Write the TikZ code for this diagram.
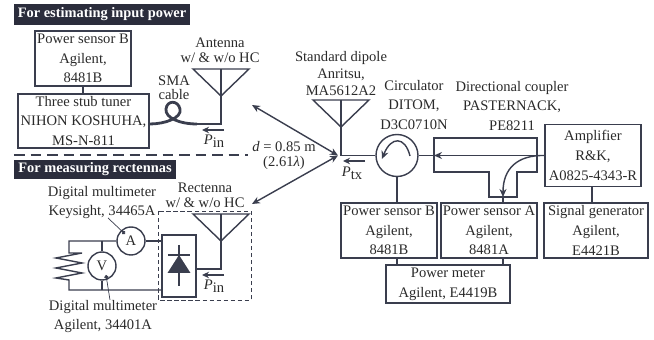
\documentclass[tikz,border=0pt]{standalone}
\usepackage{fontspec}
\setmainfont{Liberation Serif}
\usetikzlibrary{arrows.meta,positioning,calc}
\definecolor{ink}{HTML}{3A3E4E}
\definecolor{banner}{HTML}{2B2D3C}
\definecolor{txt}{HTML}{2A2A2A}
\tikzset{
  lab/.style={font=\fontsize{8.3}{11.2}\selectfont, text=txt, align=center, inner sep=0pt},
  box/.style n args={2}{lab, draw=ink, line width=0.8pt, minimum width=#1*0.02cm, minimum height=#2*0.02cm},
  meter/.style={lab, draw=ink, line width=0.8pt, circle, minimum size=0.56cm},
  head/.style={font=\fontsize{8.2}{10}\bfseries\selectfont, text=white, fill=banner, inner sep=0pt, minimum height=0.42cm},
  wire/.style={draw=ink, line width=0.8pt},
  arr/.style={wire, -{Stealth[length=1.6mm,width=1.4mm]}},
  flow/.style={draw=ink, line width=0.8pt, -{Stealth[length=1.4mm,width=1.3mm]}},
  leader/.style={draw=ink, line width=0.4pt, -{Circle[length=0.8mm]}},
}
\begin{document}
\begin{tikzpicture}[x=0.02cm,y=-0.02cm]
        \useasboundingbox (0,0) rectangle (654,340);
        % banners and divider
        \node[head, minimum width=3.52cm] (estim) at (102,14.5) {For estimating input power};
        \node[head, minimum width=3.24cm, minimum height=0.38cm] (meas) at (95,169.5) {For measuring rectennas};
        \coordinate (divL) at (14,155);
        \coordinate (divR) at (248,155);
        \draw[wire, dash pattern=on 6pt off 3.4pt] (divL) -- (divR);
        % boxes
        \node[box={96}{55}] (sensB1) at (83,58.5) {Power sensor B\\Agilent,\\8481B};
        \node[box={131}{54}] (tuner) at (83.5,121) {Three stub tuner\\NIHON KOSHUHA,\\MS-N-811};
        \node[box={96}{55}] (sensB2) at (389,230.5) {Power sensor B\\Agilent,\\8481B};
        \node[box={96}{55}] (sensA) at (489,230.5) {Power sensor A\\Agilent,\\8481A};
        \node[box={104}{55}] (siggen) at (596,230.5) {Signal generator\\Agilent,\\E4421B};
        \node[box={96}{62}] (amp) at (593,155.5) {Amplifier\\R\&K,\\A0825-4343-R};
        \node[box={124}{38}] (pmeter) at (448,284) {Power meter\\Agilent, E4419B};
        \node[box={34}{62}] (rect) at (179,266) {};
        \node[meter, minimum size=0.84cm] (circ) at (397,155.5) {};
        \node[meter] (mA) at (131,241) {A};
        \node[meter] (mV) at (102,266) {V};
        % antennas
        \foreach \x/\y/\n in {221/69/antA, 341/100/antD, 221/214/antR} {
          \coordinate (\n) at (\x,\y);
          \coordinate (\n F) at (\x,\y+27);
          \draw[wire] (\x-28,\y) -- (\x+28,\y) -- (\n F) -- cycle;
          \draw[wire] (\n) -- (\n F);
        }
        % labels
        \node[lab] (antAt) at (220,50.5) {Antenna\\[-2.7pt]w/ \& w/o HC};
        \node[lab] (smat) at (174,87.5) {SMA\\[-3.2pt]cable};
        \node[lab] (rectt) at (205,195) {Rectenna\\[-2.7pt]w/ \& w/o HC};
        \node[lab] (dipt) at (341,73.5) {Standard dipole\\[-1.5pt]Anritsu,\\[-1.5pt]MA5612A2};
        \node[lab] (circt) at (414,105) {Circulator\\DITOM,\\D3C0710N};
        \node[lab] (cplt) at (512,106) {Directional coupler\\PASTERNACK,\\PE8211};
        \node[lab] (dt) at (284,155.5) {\textit{d} = 0.85 m\\[-2.1pt](2.61\textit{λ})};
        \node[lab] (dmmAt) at (102,202.5) {Digital multimeter\\Keysight, 34465A};
        \node[lab] (dmmVt) at (103,316.5) {Digital multimeter\\Agilent, 34401A};
        \node[lab] (pin1) at (214,141) {\textit{P}\raisebox{-1.5pt}{in}};
        \node[lab] (pin2) at (214,286) {\textit{P}\raisebox{-1.5pt}{in}};
        \node[lab] (ptx) at (352,173) {\textit{P}\raisebox{-1.5pt}{tx}};
        % power flow arrows
        \foreach \x/\y/\n in {224/130/a, 224/275/b, 365/161/c} {
          \coordinate (fl\n) at (\x,\y);
          \coordinate (fr\n) at (\x-22,\y);
          \draw[flow] (fl\n) -- (fr\n);
        }
        % upper wiring
        \draw[wire] (sensB1.south) -- (sensB1.south |- tuner.north);
        \coordinate (cblL) at (tuner.east |- 0,124);
        \coordinate (cblR) at (197,124);
        \draw[draw=ink, line width=1.6pt] (cblL) .. controls (165,124) and (182,118) .. (180,109) .. controls (178,100) and (167,100) .. (166,109) .. controls (165,118) and (180,124) .. (cblR);
        \draw[wire] (antAF) |- (cblR);
        % distance arrows
        \coordinate (dTip) at (338,155.5);
        \coordinate (dUp) at (252,105);
        \coordinate (dLow) at (252,204);
        \draw[arr, {Stealth[length=1.6mm,width=1.4mm]}-{Stealth[length=1.6mm,width=1.4mm]}] (dUp) -- (dTip);
        \draw[arr, {Stealth[length=1.6mm,width=1.4mm]}-{Stealth[length=1.6mm,width=1.4mm]}] (dLow) -- (dTip);
        % transmit chain
        \draw[wire] (antDF) |- (circ.west);
        \draw[wire] (circ.south) -- (circ.south |- sensB2.north);
        \draw[wire] (amp.south -| 592,0) -- (592,203);
        \draw[wire] (503,258) -- (503,265);
        \draw[wire] (397,258) -- (397,265);
        \draw[wire] (434,138) -- (537,138) -- (537,172) -- (517,172) -- (517,197) -- (489,197) -- (489,172) -- (434,172) -- cycle;
        \coordinate (cplW) at (434,155.5);
        \coordinate (cplS) at (503,197);
        \draw[arr] (amp.west) -- (cplW);
        \draw[wire] (cplW) -- (circ.east);
        \draw[arr] (amp.west) .. controls (518,155) and (503,168) .. (cplS);
        \draw[wire] (cplS) -- (cplS |- sensA.north);
        \draw[arr, line width=0.8pt] (410,156) .. controls (405,136) and (391,136) .. (382,159);
        % rectenna
        \draw[draw=ink, line width=0.45pt, dash pattern=on 2.4pt off 1.6pt] (158,211) rectangle (251,300);
        \draw[wire] (antRF) |- (rect.east |- 0,269);
        \coordinate (dioT) at (179,255);
        \draw[wire] (179,245) -- (179,286);
        \draw[wire] (168,255) -- (190,255);
        \fill[ink] (dioT) -- (190.5,273) -- (167.5,273) -- cycle;
        % load circuit
        \coordinate (loadT) at (69,241);
        \coordinate (loadB) at (69,290);
        \draw[wire] (mA.east) -- (mA.east -| rect.west);
        \draw[wire] (mA.west) -- (loadT) -- (69,253) -- (82,253) -- (56,258) -- (82,263) -- (56,268) -- (82,273) -- (56,278) -- (69,280) -- (loadB) -- (loadB -| rect.west);
        \draw[wire] (mV.north) -- (mV.north |- loadT);
        \draw[wire] (mV.south) -- (mV.south |- loadB);
        \draw[leader] (108,218) -- (125,234);
        \draw[leader] (110,300) -- (106,275);
      \end{tikzpicture}
\end{document}
